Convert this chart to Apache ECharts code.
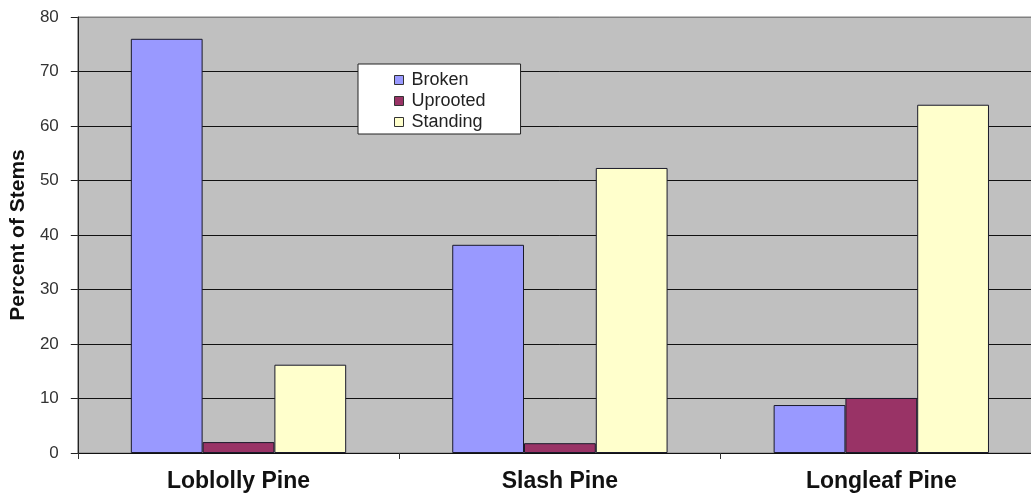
<!DOCTYPE html>
<html><head><meta charset="utf-8">
<script src="https://cdn.jsdelivr.net/npm/echarts@6/dist/echarts.min.js"></script>
<style>html,body{margin:0;padding:0;background:#fff;overflow:hidden;width:1031px;height:497px}#c{width:1042px;height:497px}</style>
</head><body><div id="c"></div>
<script>
var categories = ['Loblolly Pine', 'Slash Pine', 'Longleaf Pine'];
var broken = [76, 38.2, 8.8];
var uprooted = [2.0, 1.8, 10.1];
var standing = [16.2, 52.3, 63.9];
var seriesNames = ['Broken', 'Uprooted', 'Standing'];
var yTicks = [0, 80, 10];

var font = 'Arial, "Liberation Sans", sans-serif';
var chart = echarts.init(document.getElementById('c'));
function bar(name, data, color) {
  return { name: name, type: 'bar', data: data, barGap: '0%', barCategoryGap: '33%',
    itemStyle: { color: color, borderColor: '#1a1a2a', borderWidth: 1 }, animation: false };
}
chart.setOption({
  animation: false,
  grid: { left: 76, right: 0, top: 17, bottom: 44, show: true, backgroundColor: '#c0c0c0', borderColor: '#808080', borderWidth: 1 },
  legend: {
    orient: 'vertical', left: 358, top: 64,
    backgroundColor: '#fff', borderColor: '#222', borderWidth: 1,
    padding: [7, 35, 3, 36], itemGap: 3, itemWidth: 9, itemHeight: 9,
    icon: 'rect',
    itemStyle: { borderColor: '#333', borderWidth: 1 },
    textStyle: { fontFamily: font, fontSize: 18, color: '#222', padding: [0, 0, 0, 3] },
    data: seriesNames
  },
  xAxis: {
    type: 'category', data: categories,
    axisLine: { lineStyle: { color: '#111', width: 1 } },
    axisTick: { show: true, length: 6, lineStyle: { color: '#333' } },
    axisLabel: { fontFamily: font, fontSize: 23, fontWeight: 'bold', color: '#111', margin: 17 }
  },
  yAxis: {
    type: 'value', min: yTicks[0], max: yTicks[1], interval: yTicks[2],
    name: 'Percent of Stems', nameLocation: 'middle', nameGap: 43,
    nameTextStyle: { fontFamily: font, fontSize: 21, fontWeight: 'bold', color: '#111' },
    axisLine: { show: true, lineStyle: { color: '#222' } },
    axisTick: { show: true, length: 7, lineStyle: { color: '#222' } },
    axisLabel: { fontFamily: font, fontSize: 17, color: '#333', margin: 19 },
    splitLine: { show: true, lineStyle: { color: ['#111','#111','#111','#111','#111','#111','#111','#111','#808080'], width: 1 } }
  },
  series: [
    bar(seriesNames[0], broken, '#9999ff'),
    bar(seriesNames[1], uprooted, '#993366'),
    bar(seriesNames[2], standing, '#ffffcc')
  ]
});
</script></body></html>
